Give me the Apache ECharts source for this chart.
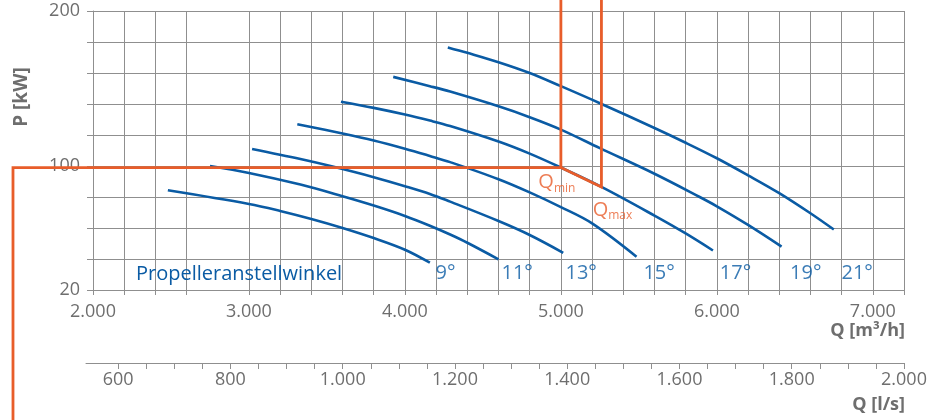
<!DOCTYPE html>
<html>
<head>
<meta charset="utf-8">
<script src="https://cdn.jsdelivr.net/npm/echarts@6/dist/echarts.min.js"></script>
<style>
  html, body { margin: 0; padding: 0; background: #fff; }
  #box { width: 932px; height: 420px; }
</style>
</head>
<body>
<div id="box"></div>
<script>
// Achsen (Q in m3/h unten, Q in l/s darunter, P in kW links)
var qTicks = [2000, 2200, 2400, 2600, 3000, 3200, 3400, 3600, 3800, 4000, 4200, 4400, 4600, 4800,
              5000, 5200, 5400, 5600, 5800, 6000, 6200, 6400, 6600, 6800, 7000, 7200];
var qLabels = [2000, 3000, 4000, 5000, 6000, 7000];
var pLabels = [20, 100, 200];
var lsTicks = [600, 650, 700, 750, 800, 850, 900, 950, 1000, 1050, 1100, 1150, 1200, 1250, 1300,
               1350, 1400, 1450, 1500, 1550, 1600, 1650, 1700, 1750, 1800, 1850, 1900, 1950, 2000];
var lsLabels = [600, 800, 1000, 1200, 1400, 1600, 1800, 2000];
var qAxisMin = 2000, qAxisMax = 7200, pAxisMin = 20, pAxisMax = 200;

// Kennlinien je Propelleranstellwinkel [Q m3/h, P kW]
var angles = ['9°', '11°', '13°', '15°', '17°', '19°', '21°'];
var curve9 = [[2480, 84.3], [3000, 75.5], [3200, 71], [3400, 65.8], [3600, 60], [3800, 53.5], [4000, 46], [4160, 37.6]];
var curve11 = [[2750, 100], [3000, 95.5], [3330, 88], [3600, 80.5], [3800, 74.5], [4000, 67.8], [4160, 61.5], [4290, 55.8], [4400, 50.5], [4600, 39.8]];
var curve13 = [[3020, 111], [3330, 104.5], [3530, 99.8], [3800, 92.8], [4000, 87], [4160, 82], [4290, 77], [4600, 64.5], [4800, 55.5], [5015, 44]];
var curve15 = [[3310, 127], [3600, 121], [3800, 116.5], [4000, 111.2], [4160, 106.5], [4290, 102.5], [4600, 91.5], [4800, 83], [5000, 73.5], [5200, 63], [5485, 41.5]];
var curve17 = [[3590, 141.5], [3800, 137.5], [4000, 133.2], [4160, 129.3], [4290, 125.8], [4600, 115.8], [4800, 108], [5000, 99], [5260, 86.5], [5600, 68], [5800, 56.5], [5975, 45.5]];
var curve19 = [[3925, 157.5], [4160, 151.5], [4290, 148], [4600, 138.5], [4800, 131.5], [5000, 123.5], [5250, 111.5], [5600, 95], [5890, 80], [6000, 74], [6200, 62], [6415, 48]];
var curve21 = [[4275, 176.5], [4400, 173], [4600, 167], [4800, 160], [5000, 151.5], [5250, 140.5], [5600, 124.5], [5800, 115], [6000, 105], [6200, 94], [6400, 82.5], [6600, 69.5], [6750, 59]];
var curves = [curve9, curve11, curve13, curve15, curve17, curve19, curve21];
var angleLabelQ = [4260, 4720, 5130, 5630, 6120, 6570, 6900];
var angleLabelP = 30.5;

// Betriebspunkt Qmin / Qmax
var qMin = [5000, 99];
var qMax = [5260, 86.5];
var leftEdgeQ = 1487;
var bottomEdgeP = -70;
var topEdgeP = 215;
var orangePaths = [
    [[leftEdgeQ, bottomEdgeP], [leftEdgeQ, qMin[1]], qMin, [qMin[0], topEdgeP]],
    [[qMax[0], topEdgeP], qMax, qMin]
];

var blue = '#0a5ba4';
var orange = '#e85d2a';
var grey = '#6e6e6e';
var gridGrey = '#8f8f8f';
var font = '"Open Sans", "Noto Sans", sans-serif';

function dots(v) {
    return String(v).replace(/\B(?=(\d{3})+(?!\d))/g, '.');
}

var myChart = echarts.init(document.getElementById('box'));

var series = [];
for (var i = 0; i < curves.length; i++) {
    series.push({
        name: angles[i],
        type: 'line',
        data: curves[i],
        smooth: 0.35,
        symbol: 'none',
        silent: true,
        z: 3,
        lineStyle: { color: blue, width: 2.6 }
    });
}
// orange Hilfslinien, laufen über den Plotbereich hinaus
series.push({
    type: 'custom',
    coordinateSystem: 'cartesian2d',
    clip: false,
    silent: true,
    z: 4,
    data: [qMin, qMax],
    renderItem: function (params, api) {
        var a = api.coord([qAxisMin, pAxisMin]);
        var b = api.coord([qAxisMax, pAxisMax]);
        var pts = orangePaths[params.dataIndex].map(function (d) {
            return [
                a[0] + (d[0] - qAxisMin) / (qAxisMax - qAxisMin) * (b[0] - a[0]),
                a[1] + (d[1] - pAxisMin) / (pAxisMax - pAxisMin) * (b[1] - a[1])
            ];
        });
        return {
            type: 'polyline',
            shape: { points: pts },
            style: { stroke: orange, lineWidth: 2.8, fill: null }
        };
    }
});
series.push({
    type: 'scatter',
    symbolSize: 1,
    silent: true,
    z: 5,
    itemStyle: { color: 'transparent' },
    data: angles.map(function (a, i) { return { name: a, value: [angleLabelQ[i], angleLabelP] }; }),
    label: {
        show: true, position: 'inside', formatter: '{b}',
        color: blue, fontSize: 20, fontFamily: font
    }
});
var qRich = {
    q: { fontSize: 20, lineHeight: 24, color: orange, fontFamily: font },
    s: { fontSize: 12, lineHeight: 12, padding: [12, 0, 0, 0], color: orange, fontFamily: font }
};
series.push({
    type: 'scatter',
    symbolSize: 1,
    silent: true,
    z: 5,
    itemStyle: { color: 'transparent' },
    data: [
        { value: qMin, label: { formatter: '{q|Q}{s|min}', offset: [-4, 15] } },
        { value: qMax, label: { formatter: '{q|Q}{s|max}', offset: [11, 23] } }
    ],
    label: { show: true, position: 'inside', rich: qRich }
});

option = {
    animation: false,
    grid: [
        { left: 93, right: 28, top: 11, bottom: 130 },
        { left: 86, right: 28, top: 362, height: 1 }
    ],
    xAxis: [{
        gridIndex: 0,
        type: 'value',
        min: qAxisMin,
        max: qAxisMax,
        interval: 200,
        axisLine: { lineStyle: { color: gridGrey, width: 1 } },
        axisTick: { customValues: qTicks, length: 5, lineStyle: { color: gridGrey } },
        splitLine: { show: true, lineStyle: { color: gridGrey, width: 1 } },
        axisLabel: {
            customValues: qLabels, margin: 13, color: grey, fontSize: 18, fontFamily: font,
            formatter: dots
        }
    }, {
        gridIndex: 1,
        type: 'value',
        min: 542.6,
        max: 2000,
        axisLine: { lineStyle: { color: gridGrey, width: 1 } },
        axisTick: { customValues: lsTicks, length: 6, lineStyle: { color: gridGrey } },
        splitLine: { show: false },
        axisLabel: {
            customValues: lsLabels, margin: 8, color: grey, fontSize: 18, fontFamily: font,
            formatter: dots
        }
    }],
    yAxis: [{
        gridIndex: 0,
        type: 'value',
        min: pAxisMin,
        max: pAxisMax,
        interval: 20,
        axisLine: { show: true, lineStyle: { color: gridGrey, width: 1 } },
        axisTick: { show: true, length: 6, lineStyle: { color: gridGrey } },
        splitLine: { show: true, lineStyle: { color: gridGrey, width: 1 } },
        axisLabel: { customValues: pLabels, margin: 13, color: grey, fontSize: 18, fontFamily: font }
    }, {
        gridIndex: 1,
        type: 'value',
        show: false
    }],
    graphic: [
        { type: 'text', x: 22, y: 97, rotation: Math.PI / 2,
          style: { text: 'P [kW]', fill: grey, font: 'bold 19px ' + font, align: 'center', verticalAlign: 'middle' } },
        { type: 'text', x: 905, y: 331,
          style: { text: 'Q [m³/h]', fill: grey, font: 'bold 18px ' + font, align: 'right', verticalAlign: 'middle' } },
        { type: 'text', x: 905, y: 405,
          style: { text: 'Q [l/s]', fill: grey, font: 'bold 18px ' + font, align: 'right', verticalAlign: 'middle' } },
        { type: 'text', x: 136, y: 274, z: 10,
          style: { text: 'Propelleranstellwinkel', fill: blue, font: '20px ' + font, align: 'left', verticalAlign: 'middle' } }
    ],
    series: series
};
myChart.setOption(option);
</script>
</body>
</html>
